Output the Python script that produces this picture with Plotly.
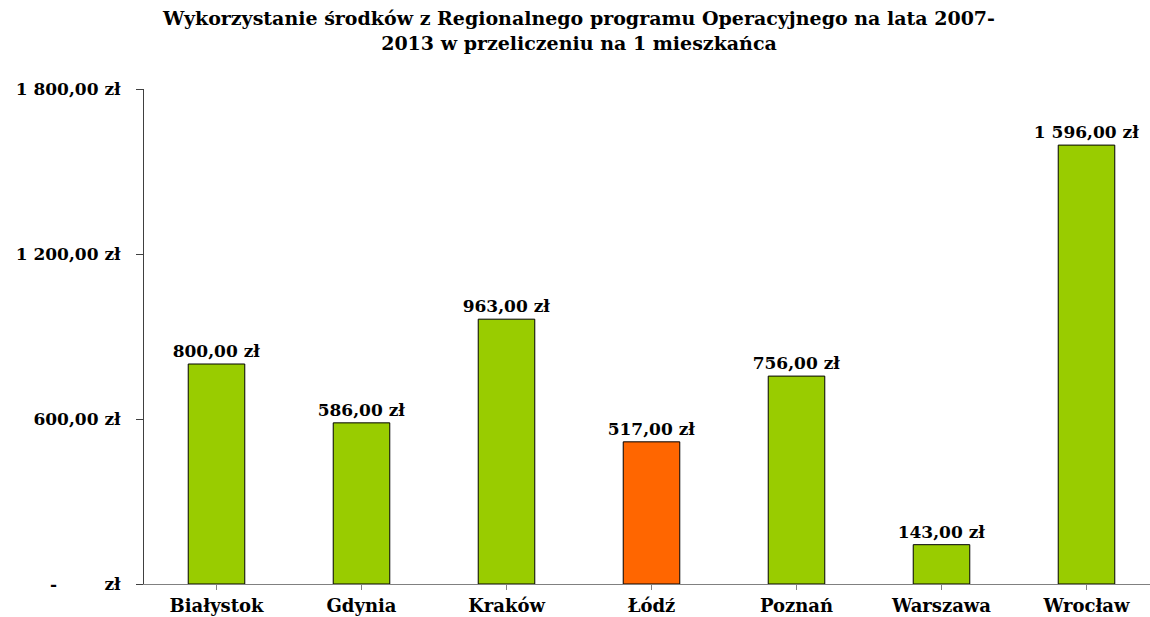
import plotly.graph_objects as go

cities = ["Białystok", "Gdynia", "Kraków", "Łódź", "Poznań", "Warszawa", "Wrocław"]
values = [800, 586, 963, 517, 756, 143, 1596]
colors = ["#99CC00", "#99CC00", "#99CC00", "#FF6600", "#99CC00", "#99CC00", "#99CC00"]
tick_vals = [0, 600, 1200, 1800]
tick_text = ["-        zł", "600,00 zł", "1 200,00 zł", "1 800,00 zł"]
title_text = ("Wykorzystanie środków z Regionalnego programu Operacyjnego na lata 2007-<br>"
              "2013 w przeliczeniu na 1 mieszkańca")


def fmt(v):
    s = f"{v:,.2f}".replace(",", " ").replace(".", ",")
    return s + " zł"


labels = [fmt(v) for v in values]

serif = "DejaVu Serif, Liberation Serif, serif"

fig = go.Figure(
    go.Bar(
        x=list(range(len(cities))),
        y=values,
        marker=dict(color=colors, line=dict(color="#000000", width=1)),
        width=0.39,
        text=labels,
        textposition="outside",
        constraintext="none",
        cliponaxis=False,
        textfont=dict(family=serif, size=17, color="#000000", weight="bold"),
    )
)

fig.add_annotation(
    text=title_text,
    xref="paper", yref="paper",
    x=(578 - 144) / 1006, y=(584 - 31) / 495,
    xanchor="center", yanchor="middle",
    showarrow=False,
    font=dict(family=serif, size=19, color="#000000", weight="bold"),
)

fig.update_layout(
    width=1150,
    height=617,
    margin=dict(l=144, r=0, t=89, b=33, autoexpand=False),
    paper_bgcolor="white",
    plot_bgcolor="white",
    showlegend=False,
    xaxis=dict(
        range=[-0.5, 6.438],
        automargin=False,
        tickmode="array",
        tickvals=list(range(len(cities))),
        ticktext=cities,
        tickson="boundaries",
        ticks="outside",
        ticklen=5,
        ticklabelstandoff=0,
        tickcolor="#808080",
        showline=True,
        linecolor="#808080",
        linewidth=1,
        showgrid=False,
        zeroline=False,
        tickfont=dict(family=serif, size=18, color="#000000", weight="bold"),
    ),
    yaxis=dict(
        range=[0, 1800],
        automargin=False,
        tickmode="array",
        tickvals=tick_vals,
        ticktext=tick_text,
        ticks="outside",
        ticklen=7,
        ticklabelstandoff=12,
        tickcolor="#404040",
        showline=True,
        linecolor="#404040",
        linewidth=1,
        showgrid=False,
        zeroline=False,
        tickfont=dict(family=serif, size=17, color="#000000", weight="bold"),
    ),
)

fig.write_html(
    "out.html",
    config={"displayModeBar": False},
    post_script="document.body.style.margin='0';document.body.style.overflow='hidden';",
)
